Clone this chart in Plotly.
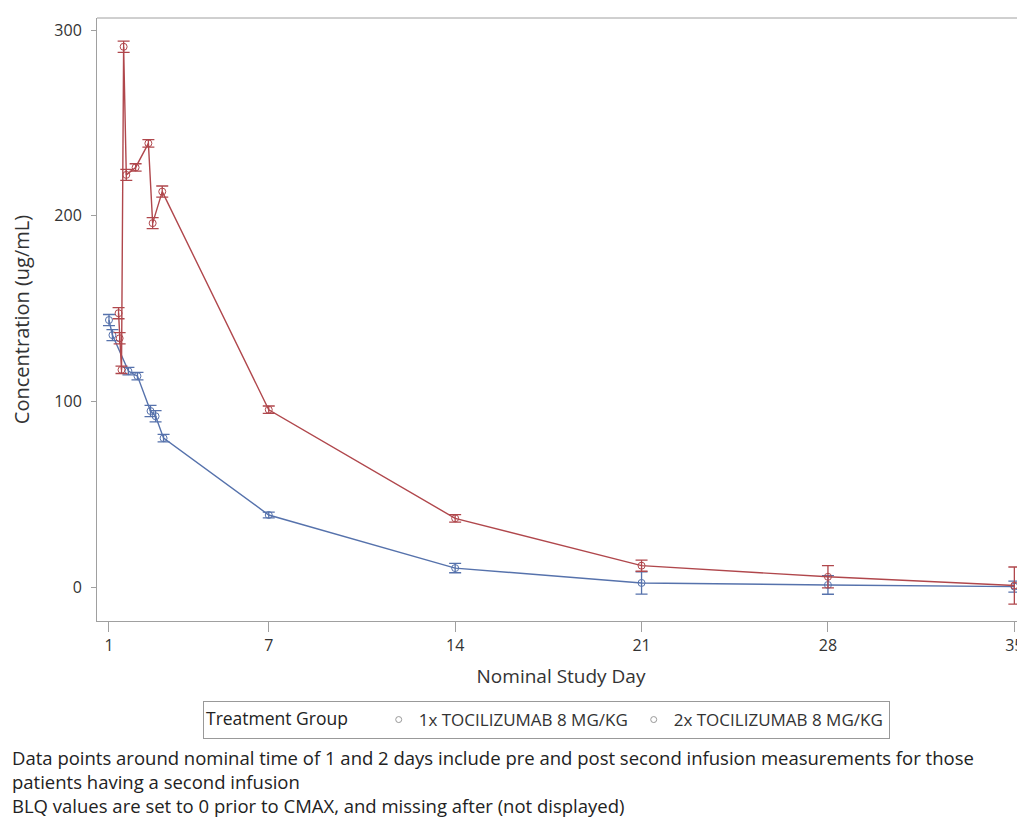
import plotly.graph_objects as go

# ---- data ----
days_1x = [1.0, 1.13, 1.73, 2.07, 2.56, 2.75, 3.05, 7, 14, 21, 28, 35]
conc_1x = [143.8, 135.7, 116.3, 113.6, 94.8, 92.0, 80.2, 38.8, 10.2, 2.2, 1.1, 0.2]
err_1x = [3, 3, 2, 2, 3, 3, 2, 1.5, 2.5, 6, 5, 3]

days_2x = [1.36, 1.40, 1.47, 1.55, 1.65, 2.0, 2.48, 2.64, 3.0, 7, 14, 21, 28, 35]
conc_2x = [147.5, 134.0, 117.0, 291.0, 222.0, 226.0, 239.0, 196.0, 213.0, 95.5, 37.0, 11.5, 5.5, 0.8]
err_2x = [3, 3, 2, 3, 3, 2, 2, 3, 3, 2, 2, 3, 6, 10]

x_ticks = [1, 7, 14, 21, 28, 35]
y_ticks = [0, 100, 200, 300]

names = ["1x TOCILIZUMAB 8 MG/KG", "2x TOCILIZUMAB 8 MG/KG"]
footnotes = [
    "Data points around nominal time of 1 and 2 days include pre and post second infusion measurements for those",
    "patients having a second infusion",
    "BLQ values are set to 0 prior to CMAX, and missing after (not displayed)",
]

# the page body has an 8px margin, so the figure is drawn at (8, 8) in the window
OFF = 8
W, H = 1025 - OFF, 821 - OFF
ML = 97 - OFF          # left axis at window x=97
MT = 18 - OFF          # top frame at window y=18
MB = H - (621 - OFF)   # bottom axis at window y=621
MR = 0
PW = W - ML - MR
PH = H - MT - MB


def py2paper(py):  # window pixel -> paper
    return (H - MB - (py - OFF)) / PH


def px2paper(px):
    return (px - OFF - ML) / PW


BLUE = "#5672AC"
RED = "#B0474C"
AX = "#A0A0A0"

fig = go.Figure()
for d, c, e, col in [(days_1x, conc_1x, err_1x, BLUE), (days_2x, conc_2x, err_2x, RED)]:
    fig.add_trace(go.Scatter(
        x=d, y=c, mode="lines+markers", showlegend=False,
        line=dict(color=col, width=1.4),
        marker=dict(symbol="circle-open", size=7, color=col, line=dict(width=1)),
        error_y=dict(type="data", array=e, color=col, thickness=1.3, width=6),
    ))

for nm in names:
    fig.add_trace(go.Scatter(
        x=[None], y=[None], mode="markers", name=nm,
        marker=dict(symbol="circle-open", size=6, color="#999999"),
    ))

fig.add_annotation(
    text="<br>".join(footnotes), xref="paper", yref="paper", x=px2paper(10),
    y=py2paper(781), xanchor="left", yanchor="middle", align="left", showarrow=False,
    font=dict(family="Open Sans", size=18.5, color="#222222"),
)

# top frame line
fig.add_shape(type="line", xref="paper", yref="paper", x0=0, x1=1, y0=1, y1=1,
              line=dict(color=AX, width=1))

fig.update_layout(
    width=W, height=H,
    margin=dict(l=ML, r=MR, t=MT, b=MB, autoexpand=False),
    paper_bgcolor="white", plot_bgcolor="white",
    font=dict(family="Open Sans", color="#333333"),
    showlegend=True,
    legend=dict(
        orientation="h", x=px2paper(203), xanchor="left", y=py2paper(720), yanchor="middle",
        bordercolor="#999999", borderwidth=1, bgcolor="white",
        font=dict(size=17, color="#333333"),
        entrywidth=210,
        title=dict(text="Treatment Group     ", font=dict(size=17.5, color="#222222")),
    ),
    xaxis=dict(
        range=[0.55, 35.4], tickvals=x_ticks, ticktext=[str(v) for v in x_ticks],
        showline=True, linecolor=AX, linewidth=1, mirror=False,
        ticks="outside", ticklen=10, tickcolor=AX,
        showgrid=False, zeroline=False, automargin=False,
        tickfont=dict(size=16, color="#333333"),
        title=dict(text="Nominal Study Day", font=dict(size=19, color="#333333"), standoff=14),
    ),
    yaxis=dict(
        range=[-18.3, 306.5], tickvals=y_ticks,
        showline=True, linecolor=AX, linewidth=1, mirror=False,
        ticks="outside", ticklen=5, tickcolor=AX, ticklabelstandoff=6,
        showgrid=False, zeroline=False, automargin=False,
        tickfont=dict(size=16, color="#333333"),
        title=dict(text="Concentration (ug/mL)", font=dict(size=20, color="#333333"), standoff=20),
    ),
)

fig.write_html("out.html")
